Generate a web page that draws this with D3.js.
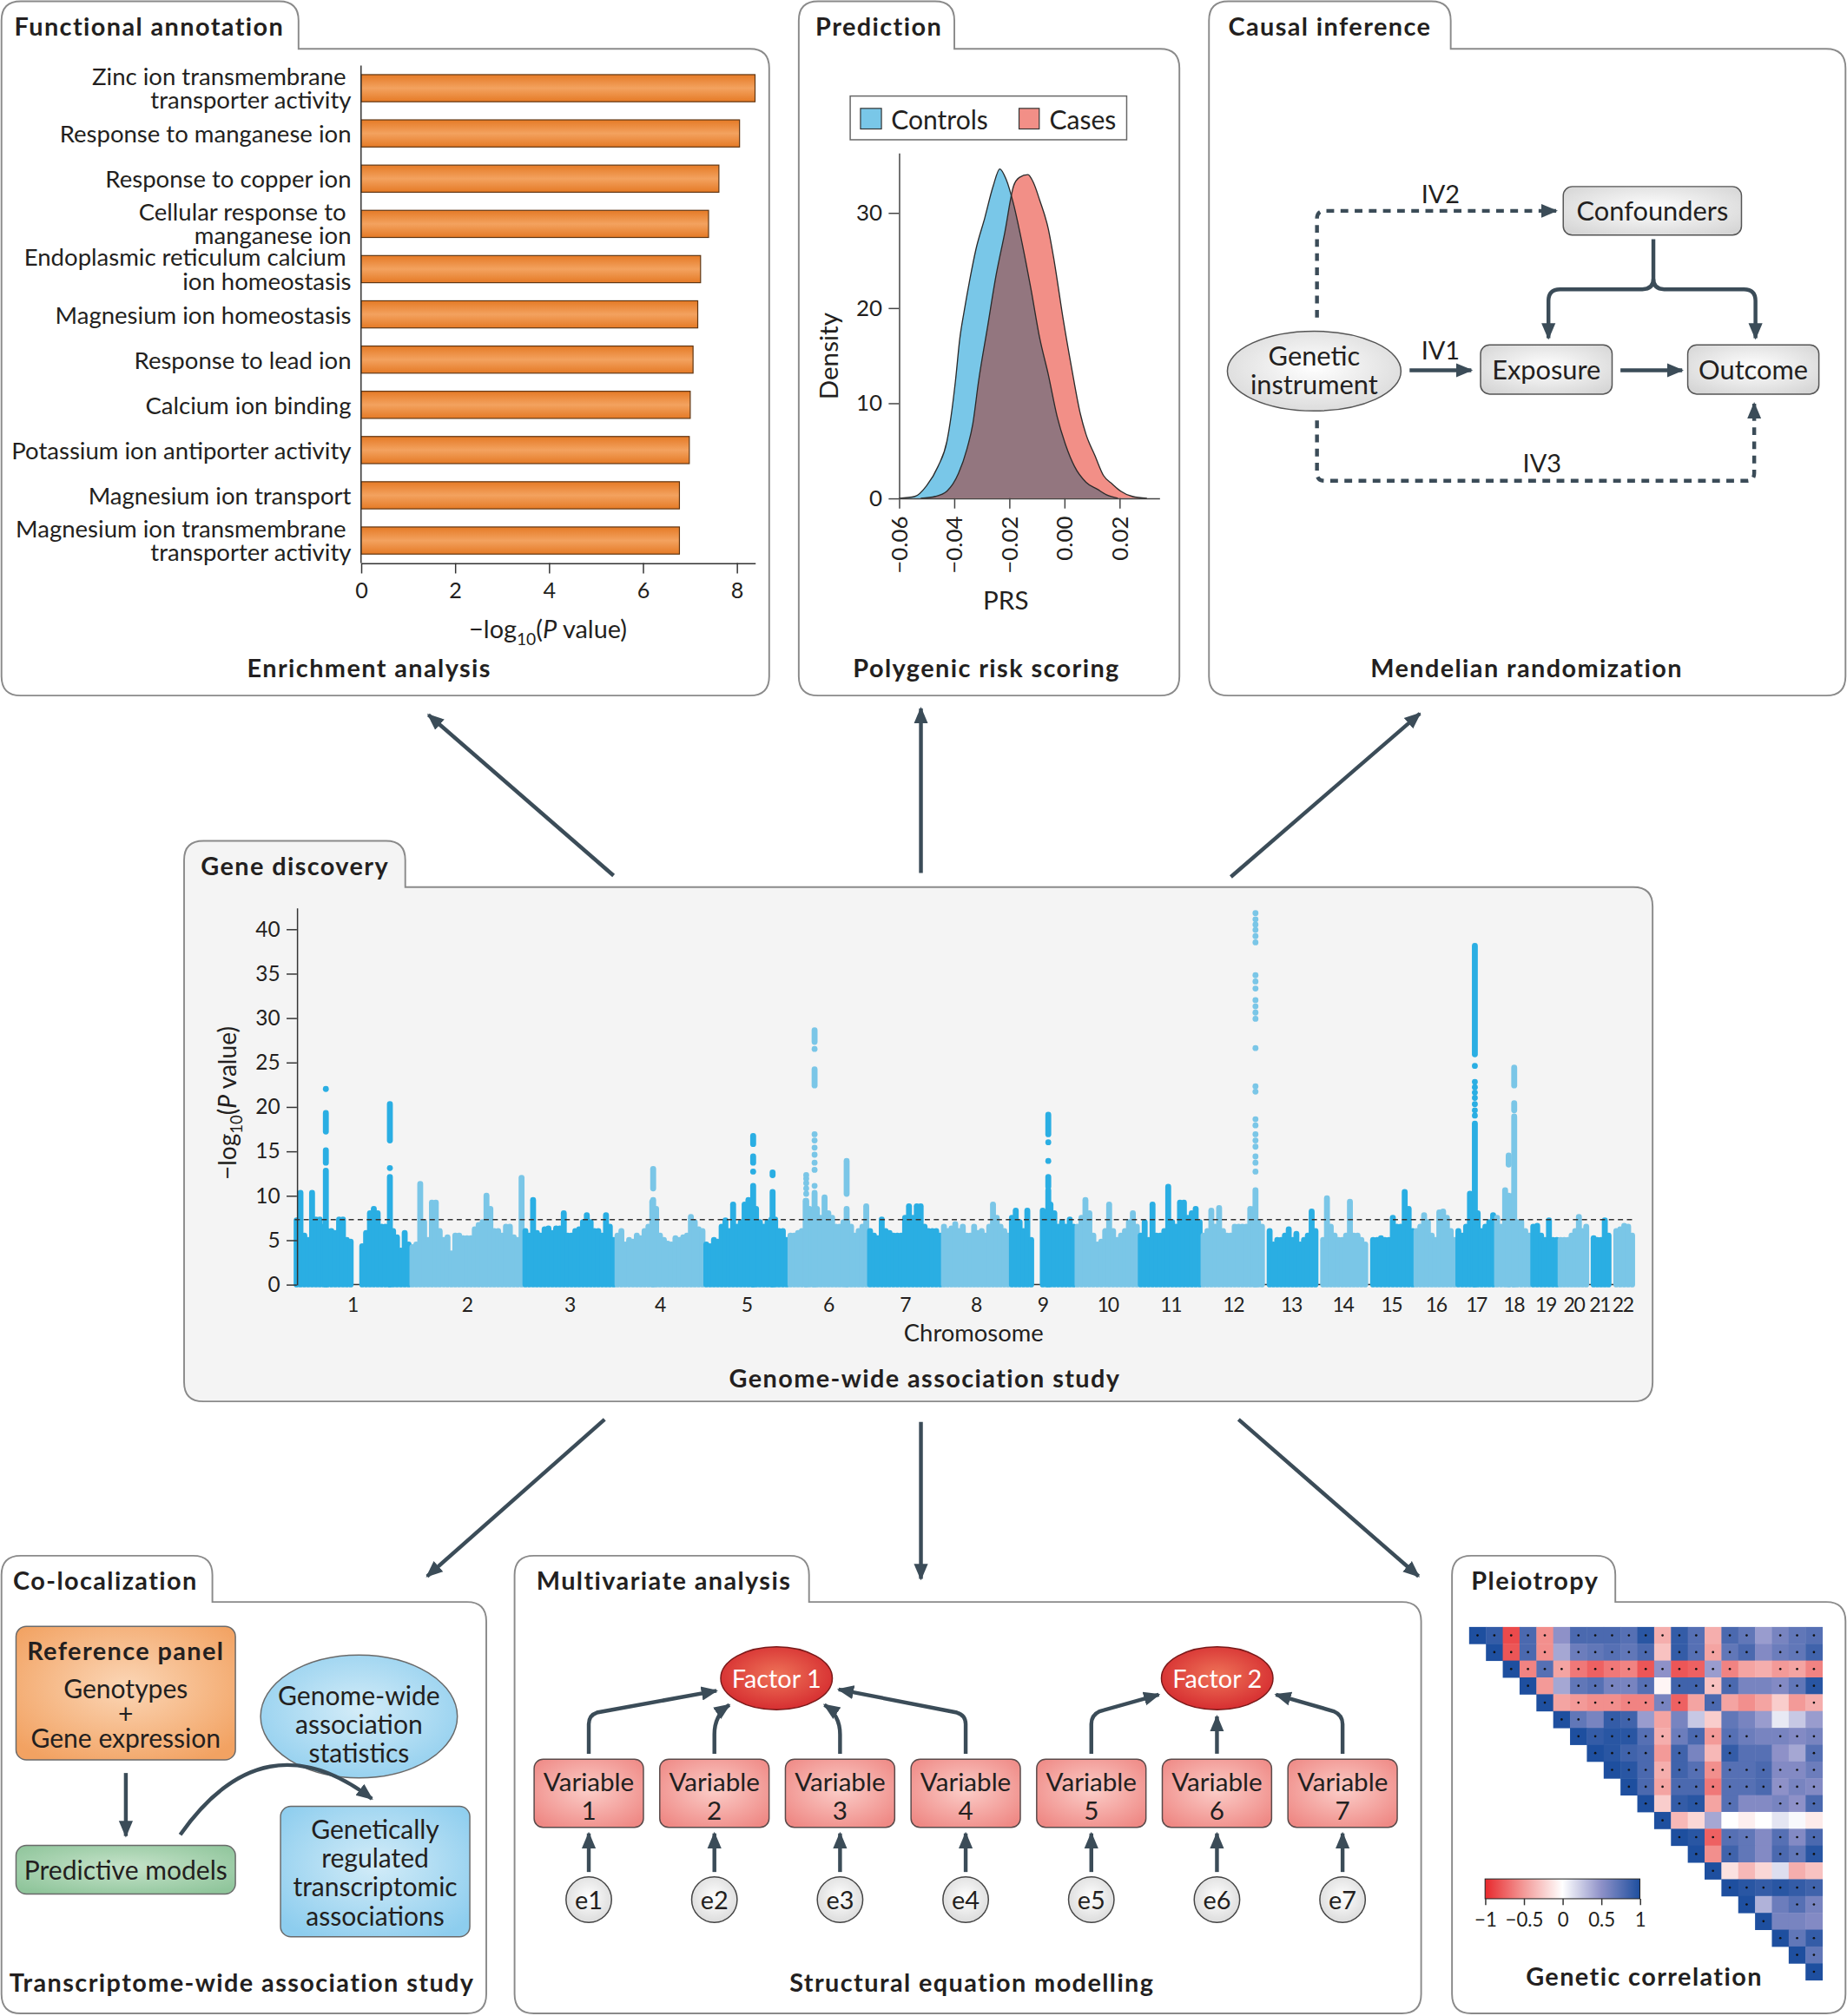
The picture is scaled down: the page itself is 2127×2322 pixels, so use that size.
<!DOCTYPE html>
<html>
<head>
<meta charset="utf-8">
<script src="https://cdn.jsdelivr.net/npm/d3@7"></script>
<style>
  body { margin: 0; background: #fff; }
  text { font-family: Lato, "Open Sans", "Noto Sans", sans-serif; fill: #231f20; }
</style>
</head>
<body>
<svg id="fig"></svg>
<script>
// ---- data ----
var goTerms = ["Zinc ion transmembrane\ntransporter activity", "Response to manganese ion", "Response to copper ion",
  "Cellular response to\nmanganese ion", "Endoplasmic reticulum calcium\nion homeostasis", "Magnesium ion homeostasis",
  "Response to lead ion", "Calcium ion binding", "Potassium ion antiporter activity", "Magnesium ion transport",
  "Magnesium ion transmembrane\ntransporter activity"];
var goScores = [8.39, 8.06, 7.62, 7.40, 7.23, 7.17, 7.07, 7.01, 6.99, 6.78, 6.78];
var goTicks = [0, 2, 4, 6, 8];

var prsTicks = [-0.06, -0.04, -0.02, 0, 0.02];
var densTicks = [0, 10, 20, 30];
var controlsX = [-0.06, -0.0542, -0.05, -0.0458, -0.0426, -0.0411, -0.0395, -0.0379, -0.0363, -0.0342, -0.0321, -0.0289, -0.0258, -0.0234, -0.0211, -0.0184, -0.0153, -0.0121, -0.0089, -0.0058, -0.0026, 0.0005, 0.0037, 0.0079, 0.0121, 0.0153, 0.0195];
var controlsY = [0, 0.19, 1.3, 3.35, 5.96, 8.57, 12.3, 16.8, 19.7, 23.1, 26.1, 29.4, 32.8, 34.6, 33.5, 30.9, 26.8, 22.0, 16.8, 13.0, 8.6, 5.6, 3.35, 1.68, 0.93, 0.37, 0];
var casesX = [-0.0521, -0.0468, -0.0426, -0.0384, -0.0353, -0.0332, -0.0311, -0.0279, -0.0247, -0.0216, -0.0184, -0.0163, -0.0132, -0.0111, -0.0089, -0.0058, -0.0037, -0.0005, 0.0026, 0.0058, 0.0079, 0.0111, 0.0142, 0.0174, 0.0205, 0.0247, 0.03];
var casesY = [0, 0.19, 0.74, 2.6, 5.2, 7.8, 12.3, 17.9, 23.5, 27.9, 32.8, 33.7, 34.0, 33.1, 31.3, 28.3, 25.0, 19.0, 13.8, 8.9, 6.7, 4.5, 2.4, 1.5, 0.74, 0.19, 0];

var chrNames = ["1","2","3","4","5","6","7","8","9","10","11","12","13","14","15","16","17","18","19","20","21","22"];
var chrLengths = [249, 243, 198, 191, 181, 171, 159, 146, 141, 136, 135, 134, 115, 107, 102, 90, 83, 78, 59, 63, 48, 51];
var chrHeights = [
  [7.2, 10.3, 5.5, 5, 10.3, 7.3, 7.3, 6.5, 6, 6, 5.8, 7.3, 7.3, 5, 4.8, null, null, 4.3, 5.8, 8, 8.5, 8, 6.5, 6.5, 6.5, 6, 5.3, 3.8, 5.8, 4.5],
  [4.2, 4.5, 11.3, 7, 5, 9.2, 9.2, 6, 5, 5.3, 3.5, 5.5, 5.5, 5.2, 5.2, 5.2, 6.2, 6.7, 7, 10, 8.5, 6, 6, 5.5, 6.5, 6.5, 5.3, 5, 12],
  [6, 5.5, 9.5, 5.8, 5.5, 6.2, 6.3, 5.8, 6.3, 6.3, 8, 5.5, 5.5, 6, 6.2, 7, 7.8, 7, 6, 6, 5.5, 7.8, 6.5, 5],
  [5.5, 6, 4.5, 5, 4.8, 5.5, 5.2, 6, 6.5, 9.3, 8.5, 5.5, 5, 4.6, 4.5, 5.2, 5, 5.3, 5.5, 7.6, 7, 6.2, 6],
  [4.5, 4.3, 5, 4.8, 6.5, 7.2, 6, 9, 6.5, 7, 9, 9.5, 8, 8.5, 7, 6.5, 7, 7.3, 7.3, 6, 6, 5],
  [5.5, 5.5, 5.8, 6, 9.4, 8.5, 8, 8.5, 7.5, 9.8, 8, 7.5, 6.5, 6.5, 7, 7, 6.5, 5.5, 6, 6.5, 8.8],
  [6, 5.5, 5.2, 7.3, 6, 5.8, 5.5, 5.5, 5.5, 7.5, 8.8, 7.5, 8.8, 8.8, 6.5, 6, 6, 6, 5.5],
  [6.5, 6, 6.3, 6.8, 6, 6.5, 5.5, 5.5, 6.5, 5.8, 6, 5.5, 6.5, 9, 7.5, 6.5, 6, 5.5],
  [7.5, 8.3, 7, 6, 8.3, 5, null, null, 8.3, 8, 9, 8, 6.5, 7, 6.5, 7.3, 6.5],
  [6.5, 7.5, 9.5, 8, 5.5, 4.5, 4.8, 6, 9, 6, 5, 5.5, 6, 7, 8, 6.5],
  [5.5, 7, 5, 9, 5.5, 5.5, 6, 11, 7, 6.5, 9.2, 9.2, 7.5, 8, 8.5, 7],
  [5.5, 6, 8.3, 6.5, 8.6, 6, 5.5, 5.5, 6.5, 6.5, 6.5, 6.5, 8.5, 8.5, 7, 6.5],
  [null, 6, 4.5, 5, 5, 5.5, 6.2, 5, 5.7, 4.5, 5, 5.5, 8.2, 6],
  [null, 5, 9.7, 6.5, 5.5, 5, 5, 5.5, 9.3, 5.5, 5.5, 5, 4.5],
  [null, 5, 5, 5.2, 5, 5, 7.5, 6.5, 6.5, 10.4, 8.5, 6],
  [6, 6.5, 7.8, 7, 5.5, 5, 8.1, 8.2, 7.5, 6, 5],
  [6, 5.5, 6.5, 10.2, 8, 8, 6, 6.5, 7, 7.8],
  [7.5, 6.5, 10.6, 9.5, 10, 7, 7, 6, 5.5],
  [6.5, 6.6, 5.5, 5, 7.2, 5, 5],
  [5, 5, 5, 5.5, 6, 7.6, 6, 6.5],
  [null, 5.2, 5, 5, 7.2, 5.5],
  [null, 6, 6.2, 6.6, 6.5, 5.5]
];
// [chromosome, position in Mb, runs of points (single value = one point)]
var gwasHits = [
  [1, 67, [[0, 12.8], [13.7, 15.1], [17.2, 19.3], 22]],
  [1, 204.7, [[0, 12.1], 13.1, [16.2, 20.3]]],
  [4, 80.8, [[0, 9.5], [10.8, 13]]],
  [5, 104.8, [[0, 11.1], 12.7, [13.7, 14.4], [15.8, 16.7]]],
  [5, 146.6, [[0, 10.4], [12.3, 12.6]]],
  [6, 37.9, [[0, 9.4], 10.2, 10.8, 11.4, 11.9, 12.3]],
  [6, 55.9, [[0, 10.3], 11.1, 12.9, 13.7, 14.6, 15.4, 16.2, 16.9, [22.4, 24.2], 26.5, [27.3, 28.6]]],
  [6, 124.8, [[0, 8.5], [10.2, 13.9]]],
  [9, 82.4, [[0, 10.6], [11.0, 12.1], 13.9, 16.0, [16.9, 19.1]]],
  [12, 115.9, [[0, 10.6], 12.7, 13.7, 14.4, 15.5, 16.2, 16.9, 17.9, 18.6, 21.7, 22.3, 26.6, 29.9, 30.6, 31.3, 32.0, 33.3, 34.1, 34.8, 38.5, 39.2, 39.9, 40.5, 41.1, 41.8]],
  [17, 39.6, [[0, 18.1], 19.0, 19.6, 20.3, 21.0, 21.6, 22.2, 22.8, 24.6, [25.9, 38.1]]],
  [18, 41.2, [[0, 18.9], [19.6, 20.4], [22.4, 24.4]]],
  [18, 29.3, [[0, 10], [13.5, 14.5]]]
];
var gwasTicks = [0, 5, 10, 15, 20, 25, 30, 35, 40];
var gwasThreshold = 7.3;

// upper triangle, row r starts at column r
var corrRows = [
  [1, 0.9, -0.85, 0.8, -0.55, 0.5, 0.8, 0.8, 0.8, 0.75, 0.95, -0.4, 0.9, 0.75, -0.4, 0.8, 0.7, 0.45, 0.6, 0.7, 0.75],
  [1, -0.8, 0.8, -0.55, 0.4, 0.65, 0.7, 0.75, 0.7, 0.8, -0.3, 0.9, 0.75, -0.45, 0.7, 0.8, 0.55, 0.65, 0.7, 0.85],
  [1, -0.6, 0.75, -0.45, -0.65, -0.75, -0.65, -0.6, -0.8, 0.5, -0.8, -0.75, 0.45, -0.6, -0.45, -0.4, -0.5, -0.45, -0.6],
  [1, -0.5, 0.4, 0.7, 0.75, 0.6, 0.6, 0.75, -0.05, 0.85, 0.85, -0.3, 0.8, 0.6, 0.6, 0.55, 0.7, 0.95],
  [1, -0.45, -0.5, -0.55, -0.55, -0.6, -0.6, 0.6, -0.75, -0.45, 0.8, -0.45, -0.55, -0.45, -0.25, -0.5, -0.4],
  [1, 0.7, 0.6, 0.9, 0.85, 0.45, -0.45, 0.6, 0.25, -0.25, 0.7, 0.6, 0.45, 0.1, 0.25, 0.45],
  [1, 0.9, 0.95, 0.95, 0.75, -0.4, 0.65, 0.8, -0.5, 0.75, 0.65, 0.6, 0.6, 0.55, 0.6],
  [1, 0.95, 0.85, 0.8, -0.5, 0.85, 0.6, -0.35, 0.9, 0.75, 0.75, 0.5, 0.4, 0.75],
  [1, 0.95, 0.8, -0.4, 0.85, 0.75, -0.55, 0.75, 0.75, 0.8, 0.55, 0.55, 0.65],
  [1, 0.8, -0.45, 0.8, 0.8, -0.65, 0.75, 0.75, 0.8, 0.5, 0.6, 0.55],
  [1, -0.25, 0.9, 0.95, -0.45, 0.75, 0.55, 0.55, 0.6, 0.5, 0.8],
  [1, -0.35, -0.2, 0.4, 0, -0.08, 0, 0.12, 0.03, -0.1],
  [1, 0.95, -0.75, 0.75, 0.7, 0.55, 0.75, 0.55, 0.8],
  [1, -0.55, 0.85, 0.7, 0.55, 0.8, 0.7, 0.95],
  [1, -0.15, -0.35, -0.2, 0.15, -0.4, -0.3],
  [1, 0.95, 0.9, 0.95, 0.9, 0.85],
  [1, 0.35, 0.65, 0.75, 0.6],
  [1, 0.6, 0.6, 0.55],
  [1, 0.7, 0.9],
  [1, 0.7],
  [1]
];
var sigRows = ["111110111111110110111", "11110111110111110111", "1111111111111100111", "100111110111100111",
  "10111111101000001", "1101100000000000", "111111111110111", "11110100100001", "1111111111111",
  "111111111111", "10110100111", "1000000000", "111110111", "10100111", "1000000", "111111", "10011",
  "1000", "111", "11", "1"];
var corrTicks = [-1, -0.5, 0, 0.5, 1];

// ---- setup ----
var W = 1436, H = 1568;
var INK = "#3b4c58";
var EDGE = "#8a8a8a";
var svg = d3.select("#fig").attr("width", 2127).attr("height", 2322).attr("viewBox", "0 0 " + W + " " + H);
var defs = svg.append("defs");

function radial(id, c0, c1) {
  var g = defs.append("radialGradient").attr("id", id).attr("cx", "50%").attr("cy", "45%").attr("r", "65%");
  g.append("stop").attr("offset", "0%").attr("stop-color", c0);
  g.append("stop").attr("offset", "100%").attr("stop-color", c1);
}
radial("gOrange", "#fbd6b6", "#f2a262");
radial("gGreen", "#c6e3ca", "#8fc59b");
radial("gBlue", "#d3ecf8", "#8dcdee");
radial("gPink", "#fbcdc8", "#ef8985");
radial("gRed", "#ee7358", "#d2222a");
radial("gGray", "#ffffff", "#d6d6d6");
var bg = defs.append("linearGradient").attr("id", "gBar").attr("x1", 0).attr("x2", 0).attr("y1", 0).attr("y2", 1);
bg.append("stop").attr("offset", "0%").attr("stop-color", "#e57a26");
bg.append("stop").attr("offset", "50%").attr("stop-color", "#f3a25f");
bg.append("stop").attr("offset", "100%").attr("stop-color", "#e57a26");

defs.append("marker").attr("id", "ah").attr("viewBox", "0 0 10 10").attr("refX", 9).attr("refY", 5)
  .attr("markerWidth", 13).attr("markerHeight", 13).attr("markerUnits", "userSpaceOnUse").attr("orient", "auto")
  .append("path").attr("d", "M0,0.8 L10,5 L0,9.2 Z").attr("fill", INK);

function arrow(d, w, dash) {
  return svg.append("path").attr("d", d).attr("fill", "none").attr("stroke", INK)
    .attr("stroke-width", w || 3).attr("stroke-dasharray", dash || null).attr("marker-end", "url(#ah)");
}
function label(x, y, s, size, opts) {
  opts = opts || {};
  return svg.append("text").attr("x", x).attr("y", y).attr("dominant-baseline", "central")
    .attr("text-anchor", opts.anchor || "middle").attr("font-size", size)
    .attr("font-weight", opts.bold ? 700 : 400).attr("letter-spacing", opts.bold ? 0.95 : (opts.ls || null))
    .style("fill", opts.fill || null).text(s);
}
// one text element holding several stacked lines: rows = [[x, y, string, bold?], ...]
function block(rows, size, anchor) {
  var t = svg.append("text").attr("font-size", size).attr("text-anchor", anchor || "middle").attr("dominant-baseline", "central");
  rows.forEach(function (r) {
    t.append("tspan").attr("x", r[0]).attr("y", r[1]).attr("dominant-baseline", "central")
      .attr("font-weight", r[3] ? 700 : null).attr("font-size", r[3] ? 19.5 : null)
      .attr("letter-spacing", r[3] ? 0.95 : null).text(r[2]);
  });
  return t;
}

// ---- panels ----
var panels = [
  {l: 1, t: 1, tr: 232, bt: 38, r: 598, b: 541, title: "Functional annotation", tx: 10},
  {l: 621, t: 1, tr: 742, bt: 38, r: 917, b: 541, title: "Prediction", tx: 13},
  {l: 940, t: 1, tr: 1128, bt: 38, r: 1435, b: 541, title: "Causal inference", tx: 15},
  {l: 143, t: 654, tr: 315, bt: 690, r: 1285, b: 1090, title: "Gene discovery", tx: 13, fill: "#f4f4f4"},
  {l: 1, t: 1210, tr: 165, bt: 1246, r: 378, b: 1566, title: "Co-localization", tx: 9},
  {l: 400, t: 1210, tr: 629, bt: 1246, r: 1105, b: 1566, title: "Multivariate analysis", tx: 17},
  {l: 1129, t: 1210, tr: 1256, bt: 1246, r: 1435, b: 1566, title: "Pleiotropy", tx: 15}
];
panels.forEach(function (p) {
  var r = 15;
  var d = "M" + p.l + "," + (p.b - r) + " L" + p.l + "," + (p.t + r) + " Q" + p.l + "," + p.t + " " + (p.l + r) + "," + p.t +
    " L" + (p.tr - r) + "," + p.t + " Q" + p.tr + "," + p.t + " " + p.tr + "," + (p.t + r) + " L" + p.tr + "," + p.bt +
    " L" + (p.r - r) + "," + p.bt + " Q" + p.r + "," + p.bt + " " + p.r + "," + (p.bt + r) + " L" + p.r + "," + (p.b - r) +
    " Q" + p.r + "," + p.b + " " + (p.r - r) + "," + p.b + " L" + (p.l + r) + "," + p.b + " Q" + p.l + "," + p.b + " " + p.l + "," + (p.b - r) + " Z";
  svg.append("path").attr("d", d).attr("fill", p.fill || "#fff").attr("stroke", EDGE).attr("stroke-width", 1.3);
  label(p.l + p.tx, (p.t + p.bt) / 2 + 1, p.title, 19.5, {anchor: "start", bold: true});
});

// ---- big arrows between panels ----
arrow("M477,681 L333,556", 3);
arrow("M716,679 L716,551", 3);
arrow("M957,682 L1104,555", 3);
arrow("M470,1104 L332,1226", 3);
arrow("M716,1106 L716,1228", 3);
arrow("M963,1104 L1103,1226", 3);

// ---- enrichment ----
(function () {
  var x = d3.scaleLinear().domain([0, 8.39]).range([280.6, 587]);
  var y = d3.scaleBand().domain(goTerms).range([51, 438]).paddingInner(0.4).paddingOuter(0.2);
  var g = svg.append("g");
  g.selectAll("rect").data(goTerms).join("rect")
    .attr("x", x(0)).attr("y", function (d) { return y(d); })
    .attr("width", function (d, i) { return x(goScores[i]) - x(0); }).attr("height", y.bandwidth())
    .attr("fill", "url(#gBar)").attr("stroke", "#5f3512").attr("stroke-width", 0.8);
  g.append("line").attr("x1", x(0)).attr("x2", x(0)).attr("y1", 51).attr("y2", 438).attr("stroke", "#333").attr("stroke-width", 1);
  var ax = g.append("g").attr("transform", "translate(0,438)")
    .call(d3.axisBottom(x).tickValues(goTicks).tickSize(8).tickPadding(7).tickSizeOuter(0));
  ax.select(".domain").attr("stroke", "#333");
  ax.selectAll(".tick line").attr("stroke", "#333");
  ax.selectAll("text").attr("font-size", 17).attr("font-family", "Lato").style("fill", "#231f20");
  goTerms.forEach(function (t) {
    var lines = t.split("\n");
    var c = y(t) + y.bandwidth() / 2;
    if (lines.length === 1) {
      label(273, c, lines[0], 18.6, {anchor: "end"});
    } else {
      block([[269, c - 10, lines[0]], [273, c + 8.5, lines[1]]], 18.6, "end");
    }
  });
  var t = svg.append("text").attr("x", 426).attr("y", 489).attr("text-anchor", "middle").attr("dominant-baseline", "central").attr("font-size", 19.5);
  t.append("tspan").text("−log");
  t.append("tspan").attr("baseline-shift", "sub").attr("font-size", 13).text("10");
  t.append("tspan").text("(");
  t.append("tspan").attr("font-style", "italic").text("P");
  t.append("tspan").text(" value)");
  label(287, 519, "Enrichment analysis", 19.5, {bold: true});
})();

// ---- PRS density ----
(function () {
  var x = d3.scaleLinear().domain([-0.06, 0.0345]).range([698.9, 901.4]);
  var y = d3.scaleLinear().domain([0, 36.3]).range([387.5, 118.8]);
  function areaOf(X) {
    return d3.area().x(function (d, i) { return x(X[i]); }).y0(y(0)).y1(function (d) { return y(d); }).curve(d3.curveMonotoneX);
  }
  function lineOf(X) {
    return d3.line().x(function (d, i) { return x(X[i]); }).y(function (d) { return y(d); }).curve(d3.curveMonotoneX);
  }
  defs.append("clipPath").attr("id", "ctrlClip").append("path").attr("d", areaOf(controlsX)(controlsY));
  svg.append("path").attr("d", areaOf(controlsX)(controlsY)).attr("fill", "#79c7e8");
  svg.append("path").attr("d", areaOf(casesX)(casesY)).attr("fill", "#f28f87");
  svg.append("path").attr("d", areaOf(casesX)(casesY)).attr("fill", "#93767f").attr("clip-path", "url(#ctrlClip)");
  svg.append("path").attr("d", lineOf(controlsX)(controlsY)).attr("fill", "none").attr("stroke", "#2b2b2b").attr("stroke-width", 0.9);
  svg.append("path").attr("d", lineOf(casesX)(casesY)).attr("fill", "none").attr("stroke", "#2b2b2b").attr("stroke-width", 0.9);

  var ay = svg.append("g").attr("transform", "translate(698.9,0)")
    .call(d3.axisLeft(y).tickValues(densTicks).tickSize(8).tickPadding(5).tickSizeOuter(0));
  var ax = svg.append("g").attr("transform", "translate(0,387.5)")
    .call(d3.axisBottom(x).tickValues(prsTicks).tickSize(8).tickSizeOuter(0).tickFormat(d3.format(".2f")));
  [ay, ax].forEach(function (a) {
    a.select(".domain").attr("stroke", "#444");
    a.selectAll(".tick line").attr("stroke", "#444");
    a.selectAll("text").attr("font-size", 17.5).attr("font-family", "Lato").style("fill", "#231f20");
  });
  ax.selectAll("text").attr("transform", "rotate(-90)").attr("text-anchor", "end")
    .attr("x", -14).attr("y", 0).attr("dy", "0.35em");

  svg.append("rect").attr("x", 661).attr("y", 74.7).attr("width", 215).attr("height", 34)
    .attr("fill", "#fff").attr("stroke", "#666").attr("stroke-width", 1);
  svg.append("rect").attr("x", 669).attr("y", 84.3).attr("width", 16.3).attr("height", 16).attr("fill", "#79c7e8").attr("stroke", "#333").attr("stroke-width", 0.8);
  label(692.8, 92.6, "Controls", 20.3, {anchor: "start"});
  svg.append("rect").attr("x", 792.3).attr("y", 84.3).attr("width", 15.7).attr("height", 16).attr("fill", "#f28f87").attr("stroke", "#333").attr("stroke-width", 0.8);
  label(815.9, 92.6, "Cases", 20.3, {anchor: "start"});

  svg.append("text").attr("transform", "translate(644,277) rotate(-90)").attr("text-anchor", "middle")
    .attr("dominant-baseline", "central").attr("font-size", 20).text("Density");
  label(782, 466, "PRS", 20);
  label(767, 519, "Polygenic risk scoring", 19.5, {bold: true});
})();

// ---- Mendelian randomization ----
(function () {
  var dash = "6,5";
  arrow("M1024,247 L1024,170 Q1024,164 1030,164 L1210,164", 3, dash);
  arrow("M1024,327 L1024,368 Q1024,374 1030,374 L1358,374 Q1364,374 1364,368 L1364,314", 3, dash);
  arrow("M1096,288 L1144,288", 3);
  arrow("M1260,288 L1308,288", 3);
  arrow("M1285.6,186 L1285.6,217 Q1285.6,225 1277,225 L1213,225 Q1204,225 1204,234 L1204,263", 3);
  arrow("M1285.6,217 Q1285.6,225 1294,225 L1356,225 Q1365,225 1365,234 L1365,263", 3);

  function box(x0, y0, w, h, s) {
    svg.append("rect").attr("x", x0).attr("y", y0).attr("width", w).attr("height", h).attr("rx", 7)
      .attr("fill", "url(#gGray)").attr("stroke", "#555").attr("stroke-width", 1);
    label(x0 + w / 2, y0 + h / 2, s, 20.8);
  }
  box(1215.5, 145.1, 138.6, 37.8, "Confounders");
  box(1151.2, 268.2, 102.3, 38.3, "Exposure");
  box(1312.3, 268.2, 102, 38.3, "Outcome");
  svg.append("ellipse").attr("cx", 1021.8).attr("cy", 288.6).attr("rx", 67.5).attr("ry", 31)
    .attr("fill", "url(#gGray)").attr("stroke", "#555").attr("stroke-width", 1);
  block([[1021.8, 276, "Genetic"], [1021.8, 298.5, "instrument"]], 20.8);
  label(1120, 150.8, "IV2", 19.5);
  label(1120, 272.3, "IV1", 19.5);
  label(1199, 360, "IV3", 19.5);
  label(1187, 519, "Mendelian randomization", 19.5, {bold: true});
})();

// ---- Manhattan plot ----
(function () {
  var starts = [], acc = 0;
  chrLengths.forEach(function (L) { starts.push(acc); acc += L; });
  var x = d3.scaleLinear().domain([0, acc]).range([229, 1270.6]);
  var y = d3.scaleLinear().domain([0, 42.4]).range([999, 706]);
  var col = function (ci) { return ci % 2 === 0 ? "#2aaee3" : "#7ac6e7"; };
  var segs = [];
  chrHeights.forEach(function (hs, ci) {
    hs.forEach(function (h, i) {
      if (h == null) return;
      segs.push({ci: ci, mb: starts[ci] + (i + 0.5) / hs.length * chrLengths[ci], lo: 0, hi: h});
    });
  });
  gwasHits.forEach(function (hit) {
    var ci = hit[0] - 1;
    hit[2].forEach(function (r) {
      var lo = Array.isArray(r) ? r[0] : r, hi = Array.isArray(r) ? r[1] : r;
      segs.push({ci: ci, mb: starts[ci] + hit[1], lo: lo, hi: hi});
    });
  });
  segs.sort(function (a, b) { return a.ci - b.ci; });
  var g = svg.append("g");
  g.append("line").attr("x1", 229).attr("x2", 1270.6).attr("y1", y(0)).attr("y2", y(0)).attr("stroke", "#333").attr("stroke-width", 1);
  g.selectAll("line.pt").data(segs).join("line").attr("class", "pt")
    .attr("x1", function (d) { return x(d.mb); }).attr("x2", function (d) { return x(d.mb); })
    .attr("y1", function (d) { return y(d.lo); }).attr("y2", function (d) { return y(d.hi); })
    .attr("stroke", function (d) { return col(d.ci); }).attr("stroke-width", 4.6).attr("stroke-linecap", "round");
  g.append("line").attr("x1", 229).attr("x2", 1270.6).attr("y1", y(gwasThreshold)).attr("y2", y(gwasThreshold))
    .attr("stroke", "#333").attr("stroke-width", 1).attr("stroke-dasharray", "4,3");
  var ay = g.append("g").attr("transform", "translate(230.7,0)")
    .call(d3.axisLeft(y).tickValues(gwasTicks).tickSize(8).tickPadding(5).tickSizeOuter(0));
  ay.select(".domain").attr("stroke", "#333");
  ay.selectAll(".tick line").attr("stroke", "#333");
  ay.selectAll("text").attr("font-size", 16.5).attr("font-family", "Lato").style("fill", "#231f20");
  chrNames.forEach(function (n, ci) {
    var t = label(x(starts[ci] + chrLengths[ci] / 2), 1014, n, 15.5, {ls: -0.9});
    if (n.length > 1) t.attr("dx", 0.45);
  });
  label(757, 1036, "Chromosome", 18.5);
  var t = svg.append("text").attr("transform", "translate(176,858) rotate(-90)").attr("text-anchor", "middle")
    .attr("dominant-baseline", "central").attr("font-size", 19);
  t.append("tspan").text("−log");
  t.append("tspan").attr("baseline-shift", "sub").attr("font-size", 12.5).text("10");
  t.append("tspan").text("(");
  t.append("tspan").attr("font-style", "italic").text("P");
  t.append("tspan").text(" value)");
  label(719, 1072, "Genome-wide association study", 19.5, {bold: true});
})();

// ---- Co-localization / TWAS ----
(function () {
  var fs = 20.3;
  svg.append("rect").attr("x", 12.3).attr("y", 1264.9).attr("width", 170.6).attr("height", 103.9).attr("rx", 8)
    .attr("fill", "url(#gOrange)").attr("stroke", "#6a6a6a").attr("stroke-width", 1);
  block([[97.6, 1284, "Reference panel", true], [97.6, 1312.6, "Genotypes"], [97.6, 1332.5, "+"], [97.6, 1351, "Gene expression"]], fs);
  arrow("M97.7,1379 L97.7,1428", 3);
  svg.append("rect").attr("x", 12.3).attr("y", 1435.3).attr("width", 170.6).attr("height", 37.8).attr("rx", 8)
    .attr("fill", "url(#gGreen)").attr("stroke", "#6a6a6a").attr("stroke-width", 1);
  label(97.6, 1454.2, "Predictive models", fs);
  svg.append("ellipse").attr("cx", 279).attr("cy", 1335).attr("rx", 76.5).attr("ry", 47.8)
    .attr("fill", "url(#gBlue)").attr("stroke", "#6a6a6a").attr("stroke-width", 1);
  block([[279, 1318, "Genome-wide"], [279, 1340.5, "association"], [279, 1363, "statistics"]], fs);
  svg.append("rect").attr("x", 218).attr("y", 1404.9).attr("width", 147.2).attr("height", 101.5).attr("rx", 8)
    .attr("fill", "url(#gBlue)").attr("stroke", "#6a6a6a").attr("stroke-width", 1);
  block([[291.6, 1422, "Genetically"], [291.6, 1444.5, "regulated"], [291.6, 1467, "transcriptomic"], [291.6, 1489.5, "associations"]], fs);
  arrow("M140,1427 Q205,1335 289,1399", 3);
  label(188, 1542, "Transcriptome-wide association study", 19.5, {bold: true});
})();

// ---- Structural equation modelling ----
(function () {
  var cx = [457.7, 555.4, 653.1, 750.8, 848.5, 946.2, 1043.9];
  arrow("M457.7,1364 L457.7,1341 Q457.7,1334 464,1332 L557,1315", 3);
  arrow("M555.4,1364 L555.4,1349 Q555.4,1334 567,1326", 3);
  arrow("M653.1,1364 L653.1,1349 Q653.1,1334 641,1326", 3);
  arrow("M750.8,1364 L750.8,1341 Q750.8,1334 744,1332 L652,1314", 3);
  arrow("M848.5,1364 L848.5,1341 Q848.5,1334 855,1331 L901,1318", 3);
  arrow("M946.2,1364 L946.2,1335", 3);
  arrow("M1043.9,1364 L1043.9,1341 Q1043.9,1334 1037,1331 L992,1318", 3);
  [[603.7, "Factor 1"], [946.4, "Factor 2"]].forEach(function (f) {
    svg.append("ellipse").attr("cx", f[0]).attr("cy", 1305.3).attr("rx", 43.4).attr("ry", 24.5)
      .attr("fill", "url(#gRed)").attr("stroke", "#7a1a1a").attr("stroke-width", 1);
    label(f[0], 1305.3, f[1], 19.5, {fill: "#fff"});
  });
  cx.forEach(function (c, i) {
    svg.append("rect").attr("x", c - 42.5).attr("y", 1368.3).attr("width", 85).attr("height", 53).attr("rx", 7)
      .attr("fill", "url(#gPink)").attr("stroke", "#5a4a4a").attr("stroke-width", 1);
    block([[c, 1385, "Variable"], [c, 1407, String(i + 1)]], 20);
    arrow("M" + c + ",1456 L" + c + ",1426", 3);
    svg.append("circle").attr("cx", c).attr("cy", 1477.5).attr("r", 17.7)
      .attr("fill", "url(#gGray)").attr("stroke", "#444").attr("stroke-width", 1);
    label(c, 1477.5, "e" + (i + 1), 19.5);
  });
  label(755.7, 1541.5, "Structural equation modelling", 19.5, {bold: true});
})();

// ---- Genetic correlation heatmap ----
(function () {
  var n = corrRows.length, cell = 13.08, x0 = 1142.3, y0 = 1265.4;
  var x = d3.scaleLinear().domain([0, n]).range([x0, x0 + n * cell]);
  var y = d3.scaleLinear().domain([0, n]).range([y0, y0 + n * cell]);
  var color = d3.scaleLinear().domain([-1, -0.5, 0, 0.5, 1]).range(["#e8282c", "#f39a98", "#ffffff", "#8e91c8", "#1e4f9f"]);
  var cells = [];
  corrRows.forEach(function (row, r) {
    row.forEach(function (v, k) { cells.push({r: r, c: r + k, v: v, s: sigRows[r][k] === "1"}); });
  });
  var g = svg.append("g");
  g.selectAll("rect").data(cells).join("rect")
    .attr("x", function (d) { return x(d.c); }).attr("y", function (d) { return y(d.r); })
    .attr("width", cell + 0.3).attr("height", cell + 0.3).attr("fill", function (d) { return color(d.v); });
  g.selectAll("circle").data(cells.filter(function (d) { return d.s; })).join("circle")
    .attr("cx", function (d) { return x(d.c + 0.5); }).attr("cy", function (d) { return y(d.r + 0.5); })
    .attr("r", 0.9).attr("fill", "#111");

  var lg = defs.append("linearGradient").attr("id", "gCorr");
  d3.range(0, 1.0001, 0.05).forEach(function (t) {
    lg.append("stop").attr("offset", (t * 100) + "%").attr("stop-color", color(-1 + 2 * t));
  });
  var cb = d3.scaleLinear().domain([-1, 1]).range([1154.7, 1275.1]);
  svg.append("rect").attr("x", cb(-1)).attr("y", 1461.4).attr("width", cb(1) - cb(-1)).attr("height", 15.4)
    .attr("fill", "url(#gCorr)").attr("stroke", "#222").attr("stroke-width", 0.7);
  var ax = svg.append("g").attr("transform", "translate(0,1476.8)")
    .call(d3.axisBottom(cb).tickValues(corrTicks).tickSize(5).tickPadding(6).tickSizeOuter(0)
      .tickFormat(function (d) { return d === 0 ? "0" : d3.format("")(d); }));
  ax.select(".domain").remove();
  ax.selectAll(".tick line").attr("stroke", "#333");
  ax.selectAll("text").attr("font-size", 15).attr("font-family", "Lato").style("fill", "#231f20");
  label(1278.5, 1537, "Genetic correlation", 19.5, {bold: true});
})();
</script>
</body>
</html>
